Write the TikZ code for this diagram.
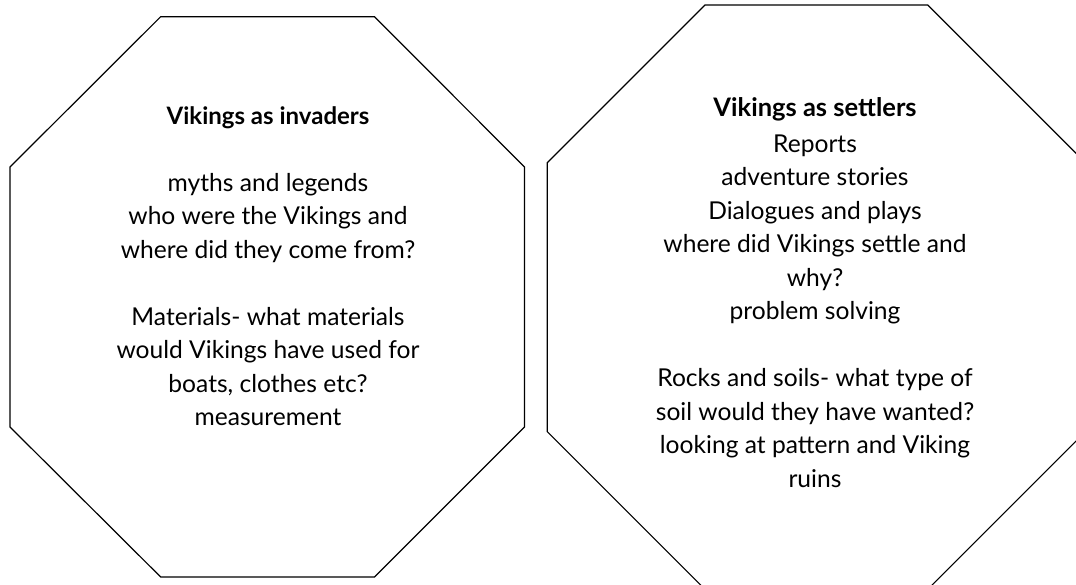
\documentclass[tikz,border=0pt]{standalone}
\usepackage{fontspec}
\setmainfont{Lato}
\usetikzlibrary{positioning}

\begin{document}
\begin{tikzpicture}[x=1pt,y=-1pt,
		octa/.style={draw, line width=1.2pt, line join=miter},
		head/.style={align=center, inner sep=0pt, anchor=base, font=\fontsize{24}{33.5}\selectfont\bfseries},
		body/.style={align=center, inner sep=0pt, anchor=base, font=\fontsize{24.6}{33.5}\selectfont}]
				\clip (0,0) rectangle (1076,585);
				\fill[white] (0,0) rectangle (1076,585);
				
				% left octagon
				\draw[octa] (160.7,16.7) -- (374.5,16.7) -- (524.5,167) -- (524.5,427) -- (374.5,577) -- (160.7,577) -- (10,427) -- (10,167) -- cycle;
				% right octagon
				\draw[octa] (705,5) -- (927.7,5) -- (1085.4,162.7) -- (1085.4,431.7) -- (927.7,589.4) -- (705,589.4) -- (547.3,431.7) -- (547.3,162.7) -- cycle;
				
				% base of a multi-line node = baseline of its last line
				\node[head] (invhead) at (268,125) {Vikings as invaders};
				\node[body] (invbody) at (268,425.5) {myths and legends\\ who were the Vikings and\\ where did they come from?\\[33.5pt] Materials- what materials\\ would Vikings have used for\\ boats, clothes etc?\\ measurement};
				
				\node[head, font=\fontsize{25.5}{33.5}\selectfont\bfseries] (sethead) at (815,117) {Vikings as settlers};
				\node[body] (setbody) at (815,487) {Reports\\ adventure stories\\ Dialogues and plays\\ where did Vikings settle and\\ why?\\ problem solving\\[33.5pt] Rocks and soils- what type of\\ soil would they have wanted?\\ looking at pattern and Viking\\ ruins};
			\end{tikzpicture}
\end{document}
